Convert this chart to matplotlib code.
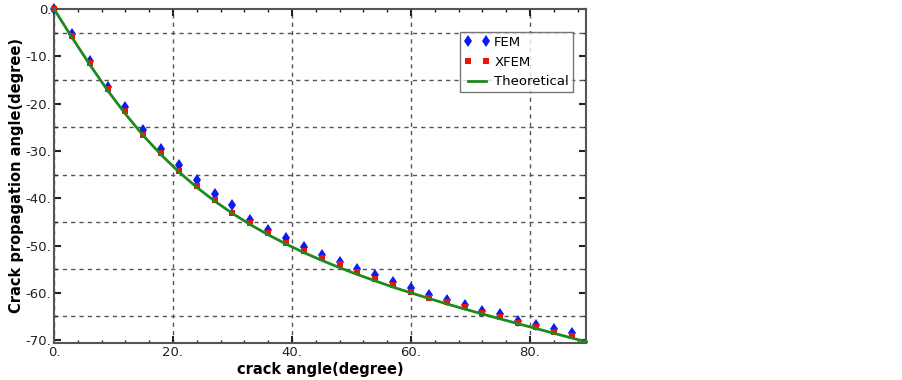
import numpy as np
import matplotlib
matplotlib.use("Agg")
import matplotlib.pyplot as plt
from matplotlib.ticker import MultipleLocator, FuncFormatter

# crack angle (degree), every 3 degrees
crack_angle = [0, 3, 6, 9, 12, 15, 18, 21, 24, 27, 30, 33, 36, 39, 42, 45,
               48, 51, 54, 57, 60, 63, 66, 69, 72, 75, 78, 81, 84, 87]

fem = [0.0, -5.3, -11.0, -16.5, -20.8, -25.6, -29.6, -33.0, -36.2, -39.1,
       -41.4, -44.6, -46.7, -48.4, -50.3, -52.0, -53.5, -55.0, -56.2, -57.7,
       -59.0, -60.5, -61.5, -62.6, -63.8, -64.5, -66.0, -66.8, -67.7, -68.5]

xfem = [0.0, -5.7, -11.4, -16.9, -21.6, -26.6, -30.4, -34.2, -37.4, -40.4,
        -43.1, -45.2, -47.4, -49.5, -51.2, -52.7, -53.9, -55.6, -57.1, -58.4,
        -59.8, -61.1, -62.0, -63.0, -64.3, -65.1, -66.4, -67.2, -68.3, -69.1]

theory_x = [0, 3, 6, 9, 12, 15, 18, 21, 24, 27, 30, 33, 36, 39, 42, 45,
            48, 51, 54, 57, 60, 63, 66, 69, 72, 75, 78, 81, 84, 87, 89.5]
theory_y = [0.0, -5.97, -11.74, -17.19, -22.20, -26.74, -30.81, -34.45,
            -37.70, -40.60, -43.22, -45.58, -47.72, -49.68, -51.49, -53.13,
            -54.68, -56.12, -57.48, -58.79, -60.00, -61.18, -62.32, -63.41,
            -64.47, -65.50, -66.52, -67.53, -68.54, -69.54, -70.36]

plt.rcParams["font.family"] = "DejaVu Sans"

fig = plt.figure(figsize=(9.03, 3.80), dpi=100)
ax = fig.add_axes([0.0598, 0.0974, 0.589, 0.879])

ax.plot(crack_angle, fem, linestyle="none", marker="d", color="#0a1cf0",
        markersize=6, markeredgewidth=0, label="FEM", zorder=3, clip_on=False)
ax.plot(crack_angle, xfem, linestyle="none", marker="s", color="#f01010",
        markersize=4.5, markeredgewidth=0, label="XFEM", zorder=4,
        clip_on=False)
ax.plot(theory_x, theory_y, color="#1e8a1e", linewidth=2,
        label="Theoretical", zorder=5, clip_on=False)

ax.set_xlim(0, 89.4)
ax.set_ylim(-70.6, 0)

ax.xaxis.set_major_locator(MultipleLocator(20))
ax.xaxis.set_minor_locator(MultipleLocator(4))
ax.yaxis.set_major_locator(MultipleLocator(10))
ax.yaxis.set_minor_locator(MultipleLocator(5))
fmt = FuncFormatter(lambda v, pos: f"{int(round(v))}.")
ax.xaxis.set_major_formatter(fmt)
ax.yaxis.set_major_formatter(fmt)

ax.tick_params(which="both", direction="in", top=True, right=True,
               labelsize=9.5, colors="#222222", pad=2)
ax.tick_params(which="major", length=5, width=1.5)
ax.tick_params(which="minor", length=2.5, width=1)

ax.xaxis.grid(True, which="major", linestyle=(0, (3, 3)), color="#555555",
              linewidth=1)
ax.yaxis.grid(True, which="minor", linestyle=(0, (3, 3)), color="#555555",
              linewidth=1)
ax.set_axisbelow(True)

for s in ax.spines.values():
    s.set_color("#555555")
    s.set_linewidth(1.5)

ax.set_xlabel("crack angle(degree)", fontsize=10.5, fontweight="bold",
              labelpad=2)
ax.set_ylabel("Crack propagation angle(degree)", fontsize=10.5,
              fontweight="bold", labelpad=1)

leg = ax.legend(loc="upper left", bbox_to_anchor=(0.763, 0.931), numpoints=2,
                fontsize=9.5, frameon=True, fancybox=False, borderpad=0.3,
                handlelength=2.0, handletextpad=0.3, labelspacing=0.5,
                borderaxespad=0)
leg.get_frame().set_edgecolor("#555555")
leg.get_frame().set_linewidth(1)

plt.savefig("out.png", dpi=100)
plt.close(fig)
